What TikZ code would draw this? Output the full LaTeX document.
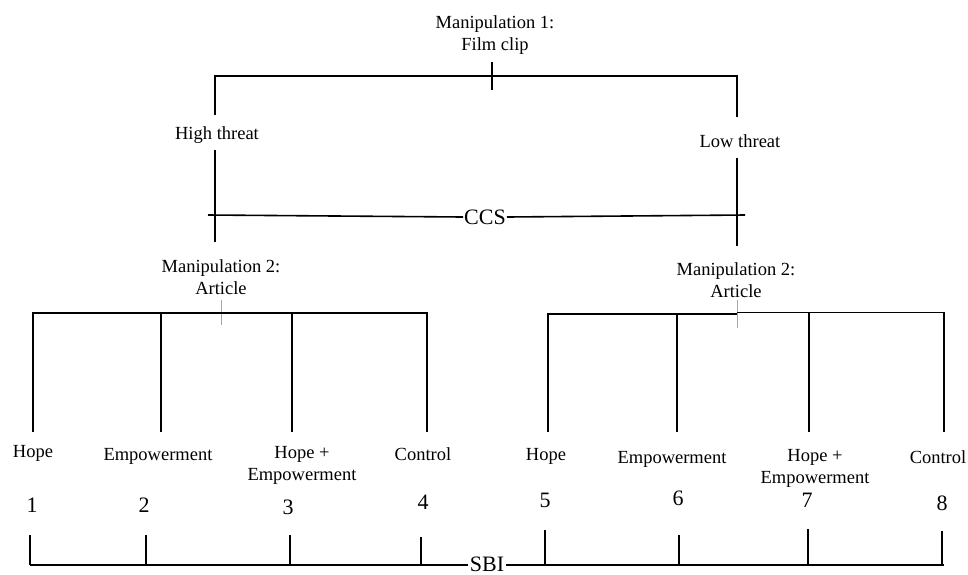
\documentclass[tikz,border=0pt]{standalone}
\usepackage{fontspec}
\setmainfont{Liberation Serif}
\begin{document}
\begin{tikzpicture}[x=1pt,y=-1pt,
  lbl/.style={font=\fontsize{18.5}{22}\selectfont, inner sep=0pt, align=center},
  big/.style={font=\fontsize{22}{24}\selectfont, inner sep=1pt},
  num/.style={font=\fontsize{22}{24}\selectfont, inner sep=0pt},
  ln/.style={line width=1.6pt, black},
  gl/.style={line width=0.9pt, gray!70}]
\useasboundingbox (0,0) rectangle (968,574);
% top
\node[lbl] (m1) at (495,35) {Manipulation 1:\\Film clip};
\coordinate (tL) at (215,76);
\coordinate (tR) at (737,76);
\coordinate (tT) at (492,62);
\coordinate (tB) at (492,90);
\draw[ln] (tT) -- (tB);
\draw[ln] (215,115) -- (tL) -- (tR) -- (737,117);
\node[lbl] (ht) at (217,135) {High threat};
\node[lbl] (lt) at (740,141) {Low threat};
\coordinate (hb) at (215,242);
\coordinate (lb) at (737,246);
\draw[ln] (215,150) -- (hb);
\draw[ln] (737,158) -- (lb);
% CCS
\node[big] (ccs) at (485,217) {CCS};
\coordinate (cL) at (208,215);
\coordinate (cR) at (745,215);
\draw[ln] (cL) -- (ccs.west);
\draw[ln] (ccs.east) -- (cR);
% manipulation 2
\node[lbl] (m2l) at (221,277) {Manipulation 2:\\Article};
\node[lbl] (m2r) at (736,280) {Manipulation 2:\\Article};
\draw[gl] (221,300) -- (221,325);
\draw[gl] (737,300) -- (737,328);
% left bracket
\draw[ln] (33,432) -- (33,313) -- (427,313) -- (427,432);
\draw[ln] (161,313) -- (161,432);
\draw[ln] (292,313) -- (292,432);
% right bracket
\draw[ln] (548,432) -- (548,314) -- (737,314);
\draw[ln] (737,312.5) -- (944,312.5) -- (944,432);
\draw[ln] (677,314) -- (677,432);
\draw[ln] (809,312.5) -- (809,432);
% labels
\node[lbl] (h1) at (33,453) {Hope};
\node[lbl] (e2) at (158,456) {Empowerment};
\node[lbl] (he3) at (302,465) {Hope +\\Empowerment};
\node[lbl] (c4) at (423,454) {Control};
\node[lbl] (h5) at (546,456) {Hope};
\node[lbl] (e6) at (672,459) {Empowerment};
\node[lbl] (he7) at (815,468) {Hope +\\Empowerment};
\node[lbl] (c8) at (938,457) {Control};
% numbers
\node[num] (n1) at (32,505) {1};
\node[num] (n2) at (144,505) {2};
\node[num] (n3) at (288,507) {3};
\node[num] (n4) at (423,502) {4};
\node[num] (n5) at (545,500) {5};
\node[num] (n6) at (678,498) {6};
\node[num] (n7) at (807,500) {7};
\node[num] (n8) at (942,503) {8};
% SBI
\node[big, inner sep=0pt, anchor=base] (sbi) at (487,571) {SBI};
\coordinate (sL) at (30,565);
\coordinate (sR) at (944,565);
\draw[ln] (sL) -- ([xshift=-2pt]sbi.west |- sL);
\draw[ln] ([xshift=2pt]sbi.east |- sR) -- (sR);
\foreach \x/\t in {30/535,146/535,290/535,421/537,545/530,679/535,808/529,942/531}
  \draw[ln] (\x,\t) -- (\x,565);
\end{tikzpicture}
\end{document}
